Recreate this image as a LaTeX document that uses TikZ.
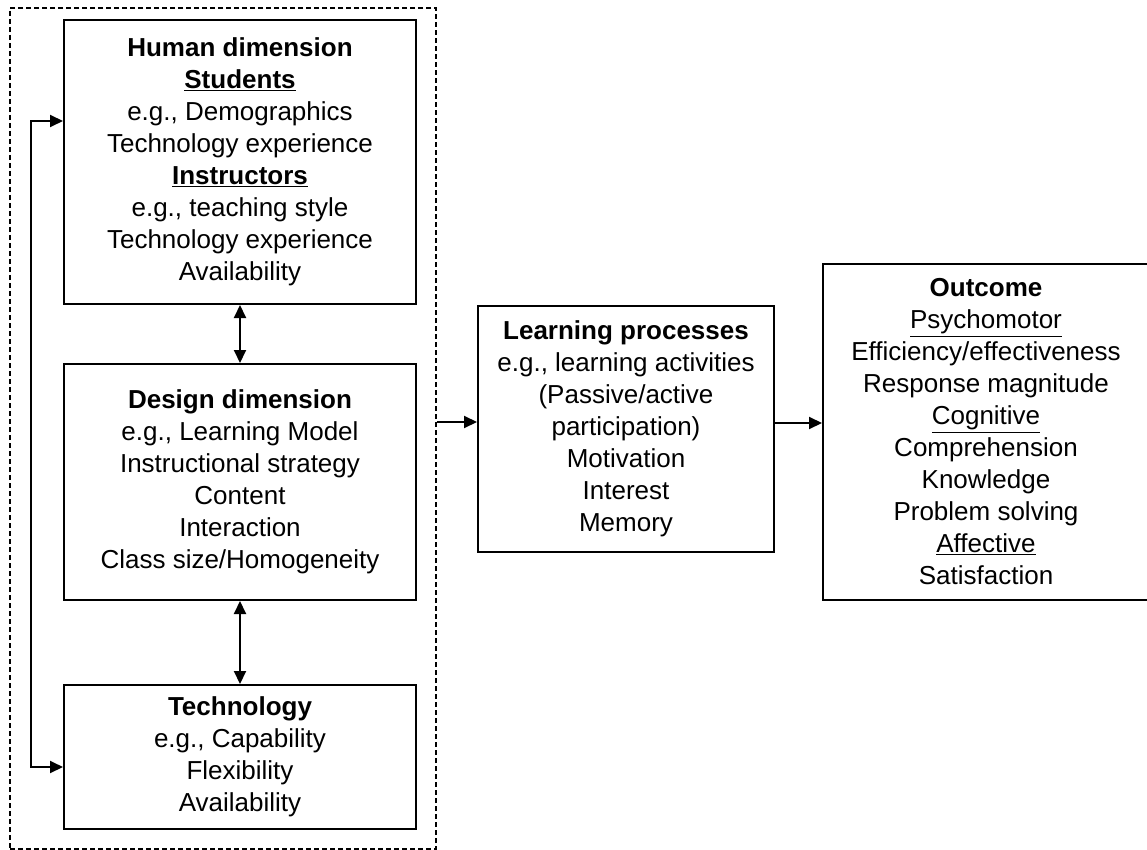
\documentclass[tikz,border=0pt]{standalone}
\usepackage{fontspec}
\setmainfont{Liberation Sans}
\usetikzlibrary{arrows.meta}
\begin{document}
\begin{tikzpicture}[x=1pt,y=-1pt,
  box/.style={draw, line width=2pt, align=center, inner sep=0pt,
    font=\fontsize{26}{32}\selectfont},
  grp/.style={draw, line width=1.6pt, dash pattern=on 5pt off 3pt, inner sep=0pt},
  arr/.style={line width=2pt, -{Triangle[length=13pt,width=12pt]}},
  darr/.style={line width=2pt, {Triangle[length=13pt,width=12pt]}-{Triangle[length=13pt,width=12pt]}}]
\useasboundingbox (0,0) rectangle (1147,850);
\clip (0,0) rectangle (1147,850);
% dashed group
\node[grp, minimum width=426pt, minimum height=841pt] (grp) at (223,428.5) {};
% boxes
\node[box, minimum width=352pt, minimum height=284pt] (human) at (240,162)
  {\textbf{Human dimension}\\ \textbf{\underline{Students}}\\ e.g., Demographics\\ Technology experience\\
   \textbf{\underline{Instructors}}\\ e.g., teaching style\\ Technology experience\\ Availability};
\node[box, minimum width=352pt, minimum height=236pt] (design) at (240,482)
  {\textbf{Design dimension}\\ e.g., Learning Model\\ Instructional strategy\\ Content\\ Interaction\\ Class size/Homogeneity};
\node[box, minimum width=352pt, minimum height=144pt] (tech) at (240,757)
  {\textbf{Technology}\\ e.g., Capability\\ Flexibility\\ Availability};
\node[box, minimum width=296pt, minimum height=246pt] (learn) at (626,429)
  {\textbf{Learning processes}\\ e.g., learning activities\\ (Passive/active\\ participation)\\ Motivation\\ Interest\\ Memory};
\node[box, minimum width=326pt, minimum height=336pt] (out) at (986,432)
  {\textbf{Outcome}\\ \underline{Psychomotor}\\ Efficiency/effectiveness\\ Response magnitude\\ \underline{Cognitive}\\
   Comprehension\\ Knowledge\\ Problem solving\\ \underline{Affective}\\ Satisfaction};
% connectors
\draw[darr] (human.south) -- (design.north);
\draw[darr] (design.south) -- (tech.north);
\draw[darr] ([yshift=-102pt]human.north west) -- ++(-32,0) |- ([yshift=-10pt]tech.west);
\draw[arr] ([yshift=7pt]learn.west -| grp.east) -- ([yshift=7pt]learn.west);
\draw[arr] ([yshift=6pt]learn.east) -- ([yshift=6pt]learn.east -| out.west);
\end{tikzpicture}
\end{document}
